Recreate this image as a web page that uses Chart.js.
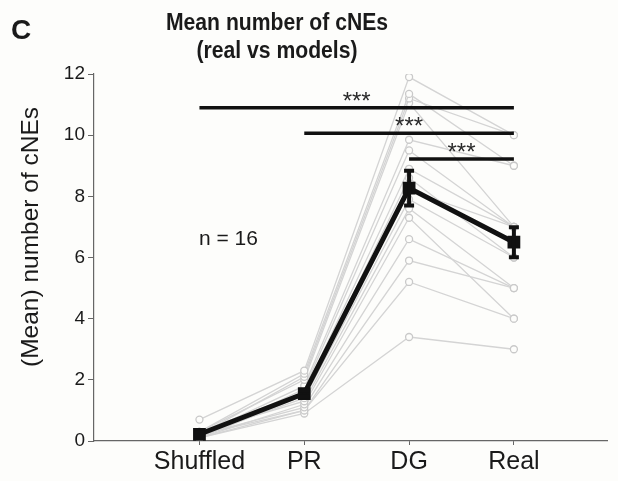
<!DOCTYPE html>
<html>
<head>
<meta charset="utf-8">
<script src="https://cdn.jsdelivr.net/npm/chart.js@4/dist/chart.umd.min.js"></script>
<style>
  body { margin: 0; background: #fdfdfb; }
  #wrap { width: 618px; height: 481px; }
</style>
</head>
<body>
<div id="wrap"><canvas id="cnes" width="618" height="481"></canvas></div>
<script>
const categories = ['Shuffled', 'PR', 'DG', 'Real'];

// one value per subject (n = 16), same subject order in every array
const shuffled = [0.7, 0.3, 0.2, 0.3, 0.2, 0.1, 0.3, 0.2, 0.1, 0.2, 0.3, 0.1, 0.2, 0.1, 0.2, 0.1];
const pr = [2.3, 2.2, 2.1, 2.0, 1.8, 1.7, 1.6, 1.5, 1.5, 1.4, 1.3, 1.2, 1.1, 1.0, 1.0, 0.9];
const dg = [11.9, 11.35, 11.2, 11.05, 9.85, 9.5, 8.9, 8.6, 8.2, 7.9, 7.6, 7.3, 6.6, 5.9, 5.2, 3.4];
const real = [10, 9, 10, 7, 9, 7, 7, 6, 7, 6, 5, 4, 5, 5, 4, 3];

const means = [0.22, 1.55, 8.27, 6.5];
const sems = [0.06, 0.1, 0.57, 0.49];

const yTicks = [0, 2, 4, 6, 8, 10, 12];

// significance bars: [from category, to category, height]
const sigBars = [[0, 3, 10.9], [1, 3, 10.06], [2, 3, 9.22]];
const sigLabel = '***';

const FONT = '"Liberation Sans", Arial, sans-serif';

const subjectSets = shuffled.map((s, i) => ({
  data: [s, pr[i], dg[i], real[i]].map((v, k) => ({ x: k, y: v })),
  borderColor: '#d4d4d4',
  borderWidth: 1.3,
  pointRadius: 3.5,
  pointBorderWidth: 1.3,
  pointBorderColor: '#c9c9c9',
  pointBackgroundColor: '#fdfdfb',
  order: 1
}));

const meanSet = {
  data: means.map((v, k) => ({ x: k, y: v })),
  borderColor: '#111',
  borderWidth: 5,
  pointStyle: 'rect',
  pointRadius: 5.5,
  pointBackgroundColor: '#111',
  pointBorderColor: '#111',
  order: 0
};

// squeezed bold text, like the narrow title face of the original
function narrowText(ctx, text, cx, cy, size, sx) {
  ctx.save();
  ctx.translate(cx, cy);
  ctx.scale(sx, 1);
  ctx.font = 'bold ' + size + 'px ' + FONT;
  ctx.textAlign = 'center';
  ctx.textBaseline = 'middle';
  ctx.fillText(text, 0, 0);
  ctx.restore();
}

const extras = {
  id: 'extras',
  afterDatasetsDraw(chart) {
    const { ctx, scales: { x, y } } = chart;
    ctx.save();
    ctx.strokeStyle = '#111';
    means.forEach((m, k) => {
      const px = x.getPixelForValue(k);
      const top = y.getPixelForValue(m + sems[k]);
      const bot = y.getPixelForValue(m - sems[k]);
      ctx.lineWidth = 4;
      ctx.beginPath();
      ctx.moveTo(px, top); ctx.lineTo(px, bot);
      ctx.stroke();
      ctx.lineWidth = 4;
      ctx.beginPath();
      ctx.moveTo(px - 5, top); ctx.lineTo(px + 5, top);
      ctx.moveTo(px - 5, bot); ctx.lineTo(px + 5, bot);
      ctx.stroke();
    });
    ctx.restore();
  },
  afterDraw(chart) {
    const { ctx, scales: { x, y } } = chart;
    ctx.save();
    // significance bars
    sigBars.forEach(([a, b, h]) => {
      const x1 = x.getPixelForValue(a), x2 = x.getPixelForValue(b);
      const py = y.getPixelForValue(h);
      ctx.strokeStyle = '#111';
      ctx.lineWidth = 3.5;
      ctx.beginPath();
      ctx.moveTo(x1, py); ctx.lineTo(x2, py);
      ctx.stroke();
      ctx.fillStyle = '#2a2a2a';
      ctx.font = '24px ' + FONT;
      ctx.textAlign = 'center';
      ctx.textBaseline = 'alphabetic';
      ctx.fillText(sigLabel, (x1 + x2) / 2, py + 1);
    });

    ctx.fillStyle = '#1a1a1a';
    narrowText(ctx, 'Mean number of cNEs', 277, 24, 23.5, 0.9);
    narrowText(ctx, '(real vs models)', 277, 52, 23.5, 0.9);

    ctx.textAlign = 'left';
    ctx.textBaseline = 'middle';
    ctx.font = 'bold 28px ' + FONT;
    ctx.fillText('C', 11, 31);

    ctx.textBaseline = 'alphabetic';
    ctx.font = '21px ' + FONT;
    ctx.fillText('n = 16', 199, 245);

    ctx.translate(31, 237);
    ctx.rotate(-Math.PI / 2);
    ctx.textAlign = 'center';
    ctx.textBaseline = 'middle';
    ctx.font = '24.5px ' + FONT;
    ctx.fillText('(Mean) number of cNEs', 0, 0);
    ctx.restore();
  }
};

new Chart(document.getElementById('cnes'), {
  type: 'line',
  data: { datasets: [meanSet, ...subjectSets] },
  plugins: [extras],
  options: {
    responsive: false,
    animation: false,
    layout: { padding: { top: 74, right: 8, left: 0, bottom: 0 } },
    plugins: { legend: { display: false }, tooltip: { enabled: false }, title: { display: false } },
    scales: {
      x: {
        type: 'linear',
        min: -1.006,
        max: 3.893,
        afterBuildTicks: s => { s.ticks = categories.map((c, k) => ({ value: k })); },
        afterFit: s => { s.height = 40; },
        ticks: {
          callback: v => categories[v],
          color: '#1a1a1a',
          font: { family: FONT, size: 25 },
          padding: 2,
          maxRotation: 0
        },
        grid: { drawOnChartArea: false, drawTicks: true, tickLength: 4, color: '#666' },
        border: { color: '#666', width: 1.2 }
      },
      y: {
        min: 0,
        max: 12,
        afterBuildTicks: s => { s.ticks = yTicks.map(v => ({ value: v })); },
        afterFit: s => { s.width = 94; },
        ticks: {
          color: '#1a1a1a',
          font: { family: FONT, size: 19 },
          padding: 3
        },
        grid: { drawOnChartArea: false, drawTicks: true, tickLength: 6, color: '#666' },
        border: { color: '#666', width: 1.2 }
      }
    }
  }
});
</script>
</body>
</html>
